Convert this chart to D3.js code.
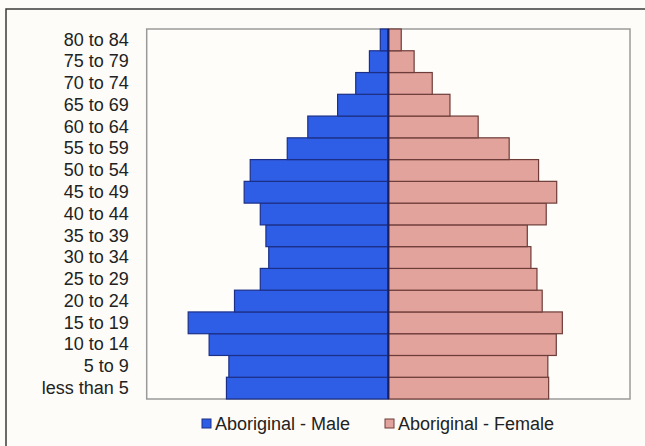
<!DOCTYPE html>
<html><head><meta charset="utf-8">
<script src="https://cdn.jsdelivr.net/npm/d3@7/dist/d3.min.js"></script>
<style>
html,body{margin:0;padding:0;background:#fdfcf8;}
svg{display:block;}
text{font-family:"Liberation Sans",Arial,sans-serif;fill:#222;}
</style></head>
<body>
<script>
const categories = ["less than 5","5 to 9","10 to 14","15 to 19","20 to 24","25 to 29","30 to 34","35 to 39","40 to 44","45 to 49","50 to 54","55 to 59","60 to 64","65 to 69","70 to 74","75 to 79","80 to 84"];
const maleValues = [4.02,3.96,4.45,4.97,3.82,3.18,2.97,3.04,3.18,3.58,3.43,2.51,2.00,1.26,0.81,0.47,0.20];
const femaleValues = [3.98,3.96,4.17,4.32,3.82,3.69,3.54,3.45,3.92,4.18,3.73,3.00,2.23,1.53,1.09,0.64,0.32];
const seriesNames = ["Aboriginal - Male","Aboriginal - Female"];
const xDomainMax = 6;

const W = 645, H = 446;
const svg = d3.select("body").append("svg").attr("width", W).attr("height", H);

// outer frame
svg.append("rect").attr("x",6).attr("y",9).attr("width",W+10).attr("height",H+10)
  .attr("fill","#fdfcf8").attr("stroke","#3a3a3a").attr("stroke-width",1.5);

const plot = {l:146.7, r:630, t:29, b:399};
const x = d3.scaleLinear().domain([-xDomainMax, xDomainMax]).range([plot.l, plot.r]);
const y = d3.scaleBand().domain(categories.slice().reverse()).range([plot.t, plot.b]).padding(0);

svg.append("rect").attr("x",plot.l).attr("y",plot.t).attr("width",plot.r-plot.l).attr("height",plot.b-plot.t)
  .attr("fill","#fefdf9").attr("stroke","#9a9a9a").attr("stroke-width",1.5);

const g = svg.append("g");
g.selectAll("rect.male").data(categories).enter().append("rect").attr("class","male")
  .attr("x", (d,i)=>x(-maleValues[i]))
  .attr("y", d=>y(d))
  .attr("width", (d,i)=>x(0)-x(-maleValues[i]))
  .attr("height", y.bandwidth())
  .attr("fill","#2f5ee6").attr("stroke","#1c2f86").attr("stroke-width",1.2);

g.selectAll("rect.female").data(categories).enter().append("rect").attr("class","female")
  .attr("x", x(0))
  .attr("y", d=>y(d))
  .attr("width", (d,i)=>x(femaleValues[i])-x(0))
  .attr("height", y.bandwidth())
  .attr("fill","#e3a39d").attr("stroke","#6e3c38").attr("stroke-width",1.2);

// center axis line
svg.append("line").attr("x1",x(0)).attr("x2",x(0)).attr("y1",plot.t).attr("y2",plot.b)
  .attr("stroke","#1b1f5c").attr("stroke-width",2.2);

// category labels via axis
const yAxis = d3.axisLeft(y).tickSize(0).tickPadding(18);
const ax = svg.append("g").attr("transform",`translate(${plot.l},0)`).call(yAxis);
ax.select(".domain").remove();
ax.selectAll("text").attr("font-size","18px").attr("fill","#222")
  .style("font-family","'Liberation Sans',Arial,sans-serif");

// legend
const leg = [
  {name:seriesNames[0], fill:"#2f5ee6", stroke:"#1c2f86", x:202},
  {name:seriesNames[1], fill:"#e3a39d", stroke:"#6e3c38", x:385}
];
const lg = svg.selectAll("g.leg").data(leg).enter().append("g").attr("class","leg")
  .attr("transform", d=>`translate(${d.x},419)`);
lg.append("rect").attr("width",9).attr("height",9).attr("fill",d=>d.fill).attr("stroke",d=>d.stroke).attr("stroke-width",1);
lg.append("text").attr("x",13).attr("y",11).attr("font-size","18px").text(d=>d.name);
</script>
</body></html>
